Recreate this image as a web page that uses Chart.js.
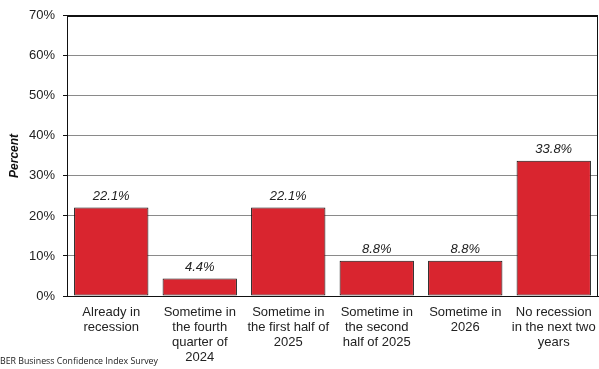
<!DOCTYPE html>
<html>
<head>
<meta charset="utf-8">
<script src="https://cdn.jsdelivr.net/npm/chart.js@4"></script>
<style>
  html, body { margin: 0; padding: 0; background: #fff; }
  #wrap { width: 599px; height: 369px; position: relative; }
</style>
</head>
<body>
<div id="wrap"><canvas id="recessionChart"></canvas></div>
<script>
const categories = [
    ['Already in', 'recession'],
    ['Sometime in', 'the fourth', 'quarter of', '2024'],
    ['Sometime in', 'the first half of', '2025'],
    ['Sometime in', 'the second', 'half of 2025'],
    ['Sometime in', '2026'],
    ['No recession', 'in the next two', 'years']
];
const shares = [22.1, 4.4, 22.1, 8.8, 8.8, 33.8];
const yTicks = [0, 10, 20, 30, 40, 50, 60, 70];
const sourceNote = 'BER Business Confidence Index Survey';

const ARIAL = "'Liberation Sans', Arial, sans-serif";

// value labels above each bar + black frame round the plot + source line
const barLabels = {
    id: 'barLabels',
    afterDatasetsDraw(chart) {
        const {ctx, chartArea} = chart;
        const meta = chart.getDatasetMeta(0);
        ctx.save();
        ctx.font = 'italic 13px ' + ARIAL;
        ctx.fillStyle = '#222';
        ctx.textAlign = 'center';
        ctx.textBaseline = 'middle';
        meta.data.forEach((bar, i) => {
            ctx.fillText(shares[i].toFixed(1) + '%', bar.x, bar.y - 11);
        });

        ctx.strokeStyle = '#111';
        ctx.lineWidth = 1;
        ctx.strokeRect(Math.round(chartArea.left) + 0.5, Math.round(chartArea.top) + 0.5,
            Math.round(chartArea.right - chartArea.left) - 1, Math.round(chartArea.bottom - chartArea.top));

        ctx.font = "8.8px 'Open Sans', sans-serif";
        ctx.fillStyle = '#222';
        ctx.textAlign = 'left';
        ctx.fillText(sourceNote, 0, 361);
        ctx.restore();
    }
};

const ctx = document.getElementById('recessionChart').getContext('2d');
const recessionChart = new Chart(ctx, {
    type: 'bar',
    data: {
        labels: categories,
        datasets: [{
            data: shares,
            backgroundColor: '#D9252F',
            borderColor: '#111',
            borderWidth: 1,
            borderSkipped: false,
            barPercentage: 0.84,
            categoryPercentage: 1
        }]
    },
    options: {
        responsive: true,
        maintainAspectRatio: false,
        animation: false,
        layout: { padding: { top: 13, right: 1, left: 0, bottom: 0 } },
        plugins: {
            legend: { display: false },
            tooltip: { enabled: false }
        },
        scales: {
            y: {
                min: 0,
                max: 70,
                afterBuildTicks: (axis) => { axis.ticks = yTicks.map(v => ({value: v})); },
                afterFit: (axis) => { axis.width = 67; },
                grid: {
                    color: (c) => c.tick && c.tick.value === 70 ? '#111' : '#8a8a8a',
                    tickColor: '#111',
                    tickLength: 4,
                    lineWidth: 1
                },
                border: { display: true, color: '#111' },
                ticks: {
                    color: '#222',
                    padding: 8,
                    font: { family: ARIAL, size: 13 },
                    callback: (v) => v + '%'
                },
                title: {
                    display: true,
                    text: 'Percent',
                    color: '#111',
                    padding: { top: 7, bottom: 0 },
                    font: { family: ARIAL, size: 12, weight: 'bold', style: 'italic' }
                }
            },
            x: {
                afterFit: (axis) => {
                    axis.height = 73;
                    axis.paddingLeft = 0;
                    axis.paddingRight = 0;
                },
                grid: { display: false, drawTicks: false },
                border: { display: true, color: '#111' },
                ticks: {
                    color: '#222',
                    padding: 9,
                    maxRotation: 0,
                    autoSkip: false,
                    font: { family: ARIAL, size: 13, lineHeight: 1.15 }
                }
            }
        }
    },
    plugins: [barLabels]
});
</script>
</body>
</html>
